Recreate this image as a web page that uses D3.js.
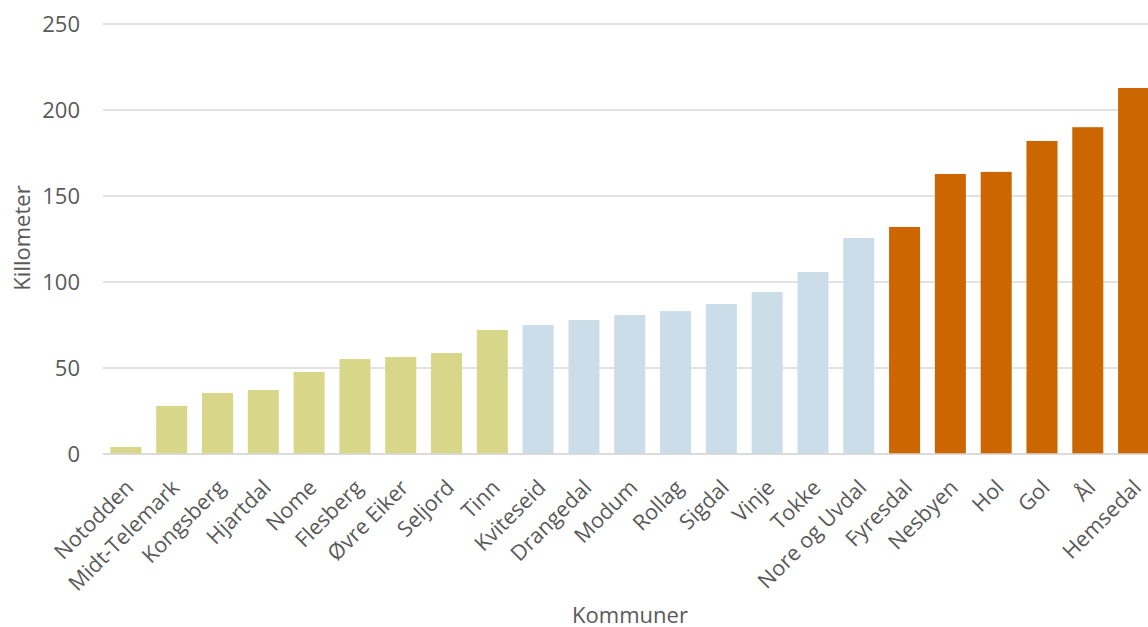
<!DOCTYPE html>
<html>
<head>
<meta charset="utf-8">
<script src="https://cdn.jsdelivr.net/npm/d3@7"></script>
<style>
  html, body { margin: 0; padding: 0; background: #fff; }
  svg { display: block; }
  text { font-family: "Open Sans", sans-serif; fill: #595959; }
</style>
</head>
<body>
<svg id="chart" width="1148" height="627"></svg>
<script>
// Kommuner sorted by distance (km)
const kommuner = ["Notodden", "Midt-Telemark", "Kongsberg", "Hjartdal", "Nome", "Flesberg",
  "Øvre Eiker", "Seljord", "Tinn", "Kviteseid", "Drangedal", "Modum", "Rollag", "Sigdal",
  "Vinje", "Tokke", "Nore og Uvdal", "Fyresdal", "Nesbyen", "Hol", "Gol", "Ål", "Hemsedal"];
const kilometer = [4.1, 28, 35.5, 37.2, 47.7, 55.2, 56.4, 58.7, 72.1, 75, 77.9, 80.8, 83.1,
  87.2, 94.2, 105.8, 125.6, 132, 162.8, 164, 182, 190, 212.8];
// Group per kommune: 0 = short, 1 = medium, 2 = long
const gruppe = [0, 0, 0, 0, 0, 0, 0, 0, 0, 1, 1, 1, 1, 1, 1, 1, 1, 2, 2, 2, 2, 2, 2];
const gruppeFarger = ["#D8D688", "#CCDDEA", "#CC6600"];
const yTicks = [0, 50, 100, 150, 200, 250];

const svg = d3.select("#chart");
const margin = { left: 103, right: 1156.5, top: 24, bottom: 454 };

const x = d3.scaleBand()
  .domain(kommuner)
  .range([margin.left, margin.right])
  .paddingInner(0.323)
  .paddingOuter(0.1615);

const y = d3.scaleLinear()
  .domain([0, 250])
  .range([margin.bottom, margin.top]);

// Gridlines
svg.append("g")
  .selectAll("line")
  .data(yTicks)
  .join("line")
  .attr("x1", margin.left)
  .attr("x2", margin.right)
  .attr("y1", d => y(d))
  .attr("y2", d => y(d))
  .attr("stroke", "#D9D9D9")
  .attr("stroke-width", 1.3);

// Y axis tick labels
const yAxis = d3.axisLeft(y).tickValues(yTicks).tickSize(0).tickPadding(23);
const yg = svg.append("g")
  .attr("transform", `translate(${margin.left},0)`)
  .call(yAxis);
yg.select(".domain").remove();
yg.selectAll("text")
  .style("font-size", "22px")
  .style("font-family", "'Open Sans', sans-serif")
  .attr("fill", "#595959");

// Bars
svg.append("g")
  .selectAll("rect")
  .data(kommuner)
  .join("rect")
  .attr("x", d => x(d))
  .attr("width", x.bandwidth())
  .attr("y", (d, i) => y(kilometer[i]))
  .attr("height", (d, i) => y(0) - y(kilometer[i]))
  .attr("fill", (d, i) => gruppeFarger[gruppe[i]]);

// X axis line drawn on top of bars
svg.append("line")
  .attr("x1", margin.left).attr("x2", margin.right)
  .attr("y1", y(0)).attr("y2", y(0))
  .attr("stroke", "#D9D9D9").attr("stroke-width", 1.3);

// Category labels, rotated
const xAxis = d3.axisBottom(x).tickSize(0).tickPadding(0);
const xg = svg.append("g")
  .attr("transform", `translate(0,${y(0)})`)
  .call(xAxis);
xg.select(".domain").remove();
xg.selectAll("text")
  .style("font-size", "21.5px")
  .style("font-family", "'Open Sans', sans-serif")
  .attr("fill", "#595959")
  .attr("text-anchor", "end")
  .attr("dy", null)
  .attr("y", 0)
  .attr("transform", "translate(9,35) rotate(-45)");

// Axis titles
svg.append("text")
  .attr("x", 630).attr("y", 623)
  .attr("text-anchor", "middle")
  .style("font-size", "22px")
  .text("Kommuner");

svg.append("text")
  .attr("transform", "translate(30,238) rotate(-90)")
  .attr("text-anchor", "middle")
  .style("font-size", "22px")
  .text("Killometer");
</script>
</body>
</html>
